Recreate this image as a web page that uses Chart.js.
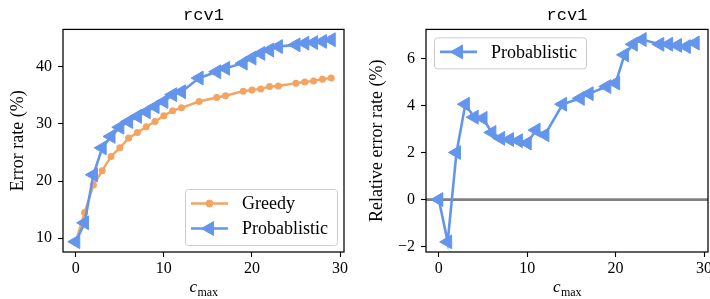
<!DOCTYPE html>
<html>
<head>
<meta charset="utf-8">
<script src="https://cdn.jsdelivr.net/npm/chart.js@4.4.1/dist/chart.umd.min.js"></script>
<style>
  body { margin: 0; background: #fff; }
  .panel { position: absolute; top: 0; width: 355px; height: 299px; overflow: hidden; }
</style>
</head>
<body>
<div class="panel" style="left:0"><canvas id="errChart" width="355" height="299"></canvas></div>
<div class="panel" style="left:355px"><canvas id="relChart" width="365" height="299"></canvas></div>
<script>
// c_max values that were run
var cmax = [0, 1, 2, 3, 4, 5, 6, 7, 8, 9, 10, 11, 12, 14, 16, 17, 19, 20, 21, 22, 23, 25, 26, 27, 28, 29];

// error rate (%)
var greedy = [9.4, 14.5, 19.3, 21.8, 24.3, 25.8, 27.5, 28.5, 29.5, 30.4, 31.4, 32.3, 32.8, 33.9, 34.6, 34.9, 35.7, 35.9, 36.1, 36.5, 36.6, 37.1, 37.3, 37.5, 37.8, 38.0];
var probablistic = [9.4, 12.7, 21.1, 25.8, 27.8, 29.4, 30.4, 31.3, 32.1, 33.0, 33.9, 35.1, 35.6, 38.0, 39.1, 39.7, 40.6, 41.5, 42.3, 42.9, 43.5, 43.8, 44.1, 44.2, 44.4, 44.7];

// relative error rate (%)
var relative = [0, -1.8, 2.0, 4.05, 3.5, 3.45, 2.85, 2.6, 2.55, 2.5, 2.4, 2.95, 2.75, 4.05, 4.3, 4.5, 4.8, 4.95, 6.15, 6.6, 6.8, 6.6, 6.6, 6.55, 6.5, 6.65];
var zeroLine = [0, 0];

var xTicks = [0, 10, 20, 30];
var errTicks = [10, 20, 30, 40];
var relTicks = [-2, 0, 2, 4, 6];

var xMin = -1.45, xMax = 30.45;

Chart.defaults.font.family = '"Liberation Serif", serif';
Chart.defaults.color = '#000';

function pts(xs, ys) {
    return xs.map(function(x, i) { return {x: x, y: ys[i]}; });
}

// box around the axes + the c_max label
var frame = {
    id: 'frame',
    afterDraw: function(chart) {
        var ctx = chart.ctx, a = chart.chartArea;
        ctx.save();
        ctx.strokeStyle = '#000';
        ctx.lineWidth = 1.25;
        ctx.strokeRect(a.left, a.top, a.right - a.left, a.bottom - a.top);

        var cx = (a.left + a.right) / 2;
        ctx.fillStyle = '#000';
        ctx.textBaseline = 'alphabetic';
        ctx.textAlign = 'left';
        ctx.font = 'italic 17px "Liberation Serif"';
        var wc = ctx.measureText('c').width;
        ctx.font = '12px "Liberation Serif"';
        var wm = ctx.measureText('max').width;
        var x0 = cx - (wc + wm) / 2;
        ctx.font = 'italic 17px "Liberation Serif"';
        ctx.fillText('c', x0, 292);
        ctx.font = '12px "Liberation Serif"';
        ctx.fillText('max', x0 + wc + 0.5, 296);
        ctx.restore();
    }
};

// matplotlib style legend inside the axes
var boxLegend = {
    id: 'boxLegend',
    afterDraw: function(chart, args, opts) {
        var ctx = chart.ctx, a = chart.chartArea;
        var items = chart.data.datasets.filter(function(d) { return d.label; });
        ctx.save();
        ctx.font = '18px "Liberation Serif"';
        var textW = Math.max.apply(null, items.map(function(d) { return ctx.measureText(d.label).width; }));
        var w = 57 + textW + 9, h = items.length * 25 + 6;
        var x = opts.corner === 'lower right' ? a.right - 7 - w : a.left + 8;
        var y = opts.corner === 'lower right' ? a.bottom - 7 - h : a.top + 8;
        ctx.fillStyle = 'rgba(255,255,255,0.8)';
        ctx.strokeStyle = '#cccccc';
        ctx.lineWidth = 1;
        ctx.beginPath();
        ctx.roundRect(x + 0.5, y + 0.5, w, h, 3);
        ctx.fill();
        ctx.stroke();
        items.forEach(function(d, i) {
            var cy = y + 14.5 + i * 25;
            ctx.strokeStyle = d.borderColor;
            ctx.lineWidth = d.borderWidth;
            ctx.beginPath();
            ctx.moveTo(x + 6, cy);
            ctx.lineTo(x + 43, cy);
            ctx.stroke();
            ctx.fillStyle = d.pointBackgroundColor;
            ctx.lineWidth = 1;
            Chart.helpers.drawPoint(ctx, {
                pointStyle: d.pointStyle,
                rotation: d.pointRotation || 0,
                radius: d.pointRadius,
                borderWidth: 1
            }, x + 24.5, cy);
            ctx.fillStyle = '#000';
            ctx.textBaseline = 'middle';
            ctx.textAlign = 'left';
            ctx.fillText(d.label, x + 57, cy + 1);
        });
        ctx.restore();
    }
};

function xScale() {
    return {
        type: 'linear',
        min: xMin,
        max: xMax,
        afterBuildTicks: function(s) { s.ticks = xTicks.map(function(v) { return {value: v}; }); },
        afterFit: function(s) { s.height = 47; s.paddingLeft = 0; s.paddingRight = 0; },
        ticks: { font: {size: 16}, padding: 2, maxRotation: 0, autoSkip: false },
        grid: { drawOnChartArea: false, tickLength: 5, tickColor: '#000', tickWidth: 1.1 },
        border: { display: false }
    };
}

function yScale(min, max, ticks, width, title, titlePad) {
    return {
        type: 'linear',
        min: min,
        max: max,
        afterBuildTicks: function(s) { s.ticks = ticks.map(function(v) { return {value: v}; }); },
        afterFit: function(s) { s.width = width; s.paddingTop = 0; s.paddingBottom = 0; },
        ticks: {
            font: {size: 16},
            padding: 6,
            callback: function(v) { return String(v).replace('-', '\u2212'); }
        },
        grid: { drawOnChartArea: false, tickLength: 5, tickColor: '#000', tickWidth: 1.1 },
        border: { display: false },
        title: { display: true, text: title, font: {size: 18}, padding: {top: titlePad, bottom: 0} }
    };
}

function titleOpts() {
    return {
        display: true,
        text: 'rcv1',
        fullSize: false,
        font: { family: '"Liberation Mono", monospace', size: 17, weight: 'normal' },
        padding: { top: 5, bottom: 4 }
    };
}

new Chart(document.getElementById('errChart'), {
    type: 'line',
    data: {
        datasets: [
            {
                label: 'Greedy',
                data: pts(cmax, greedy),
                borderColor: '#F4A460',
                backgroundColor: '#F4A460',
                pointBackgroundColor: '#F4A460',
                borderWidth: 2.4,
                pointStyle: 'circle',
                pointRadius: 3.5,
                pointBorderWidth: 0,
                order: 1
            },
            {
                label: 'Probablistic',
                data: pts(cmax, probablistic),
                borderColor: '#6495ED',
                backgroundColor: '#6495ED',
                pointBackgroundColor: '#6495ED',
                borderWidth: 2.6,
                pointStyle: 'triangle',
                pointRotation: -90,
                pointRadius: 8,
                pointBorderWidth: 1,
                order: 0
            }
        ]
    },
    options: {
        responsive: false,
        animation: false,
        layout: { padding: { left: 0, right: 11, top: 0, bottom: 0 } },
        scales: {
            x: xScale(),
            y: yScale(7.6, 46.5, errTicks, 63, 'Error rate (%)', 7)
        },
        plugins: {
            legend: { display: false },
            tooltip: { enabled: false },
            title: titleOpts(),
            boxLegend: { corner: 'lower right' }
        }
    },
    plugins: [frame, boxLegend]
});

// canvas is 10px wider than its panel so the "30" label is cut at the edge
new Chart(document.getElementById('relChart'), {
    type: 'line',
    data: {
        datasets: [
            {
                label: 'Probablistic',
                data: pts(cmax, relative),
                borderColor: '#6495ED',
                backgroundColor: '#6495ED',
                pointBackgroundColor: '#6495ED',
                borderWidth: 2.6,
                pointStyle: 'triangle',
                pointRotation: -90,
                pointRadius: 8,
                pointBorderWidth: 1,
                order: 0
            },
            {
                data: pts([xMin, xMax], zeroLine),
                borderColor: '#808080',
                borderWidth: 2.7,
                pointRadius: 0,
                order: 1
            }
        ]
    },
    options: {
        responsive: false,
        animation: false,
        layout: { padding: { left: 0, right: 12, top: 0, bottom: 0 } },
        scales: {
            x: xScale(),
            y: yScale(-2.23, 7.23, relTicks, 71, 'Relative error rate (%)', 11)
        },
        plugins: {
            legend: { display: false },
            tooltip: { enabled: false },
            title: titleOpts(),
            boxLegend: { corner: 'upper left' }
        }
    },
    plugins: [frame, boxLegend]
});
</script>
</body>
</html>
